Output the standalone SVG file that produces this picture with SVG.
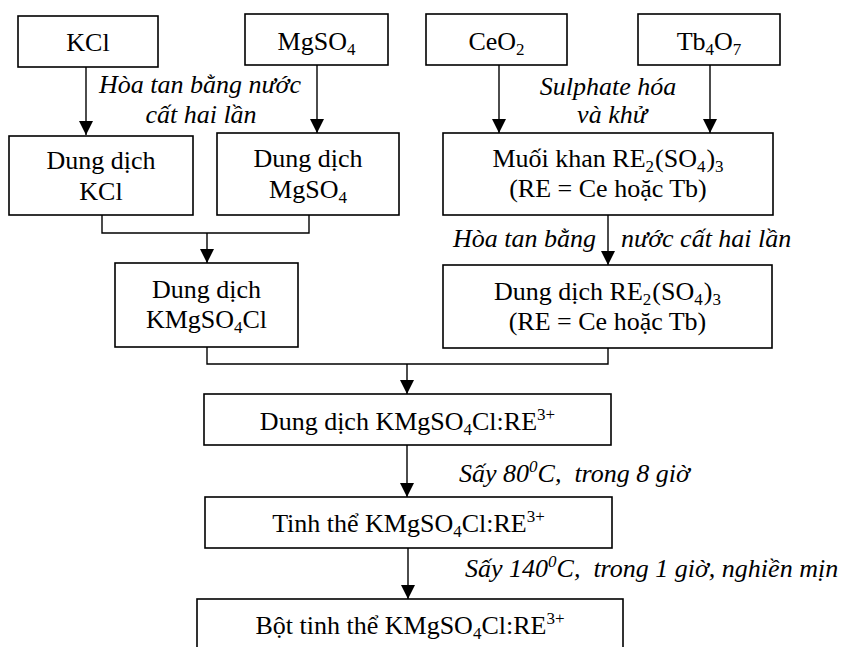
<svg xmlns="http://www.w3.org/2000/svg" width="849" height="647" viewBox="0 0 849 647">
<defs>
<style>
.box{fill:#fff;stroke:#000;stroke-width:1.6}
.t{font-family:"Liberation Serif","Times New Roman",serif;font-size:26px;fill:#000;text-anchor:middle}
.lbl{font-family:"Liberation Serif","Times New Roman",serif;font-size:26px;font-style:italic;fill:#000}
.c{text-anchor:middle}
.s{font-size:17px}
.ln{fill:none;stroke:#000;stroke-width:1.4}
</style>
<marker id="ah" markerUnits="userSpaceOnUse" markerWidth="14" markerHeight="14" viewBox="0 0 14 14" refX="14" refY="7" orient="auto">
<path d="M0,0 L14,7 L0,14 Z" fill="#000"/>
</marker>
</defs>
<rect width="849" height="647" fill="#fff"/>
<g id="connectors">
<path class="ln" d="M86,67 V135" marker-end="url(#ah)"/>
<path class="ln" d="M317,65 V133" marker-end="url(#ah)"/>
<path class="ln" d="M499,65 V133" marker-end="url(#ah)"/>
<path class="ln" d="M710,65 V133" marker-end="url(#ah)"/>
<path class="ln" d="M102,215 V233 H309 V215"/>
<path class="ln" d="M207,233 V263" marker-end="url(#ah)"/>
<path class="ln" d="M608,215 V265" marker-end="url(#ah)"/>
<path class="ln" d="M207,347 V364 H608 V348"/>
<path class="ln" d="M407,364 V394" marker-end="url(#ah)"/>
<path class="ln" d="M407,445 V497" marker-end="url(#ah)"/>
<path class="ln" d="M408,548 V599" marker-end="url(#ah)"/>
</g>
<g id="labels">
<text class="lbl c" x="200" y="93">Hòa tan bằng nước</text>
<text class="lbl c" x="201" y="123">cất hai lần</text>
<text class="lbl c" x="608" y="95">Sulphate hóa</text>
<text class="lbl c" x="612" y="123">và khử</text>
<text class="lbl" y="247"><tspan x="453">Hòa tan bằng</tspan><tspan x="621">nước cất hai lần</tspan></text>
<text class="lbl" x="459" y="482" xml:space="preserve">Sấy 80<tspan class="s" dy="-10">0</tspan><tspan dy="10">C,  trong 8 giờ</tspan></text>
<text class="lbl" x="465" y="577" xml:space="preserve">Sấy 140<tspan class="s" dy="-10">0</tspan><tspan dy="10">C,  trong 1 giờ, nghiền mịn</tspan></text>
</g>
<g id="kcl">
<rect class="box" x="18" y="16" width="140" height="51"/>
<text class="t" x="88" y="51">KCl</text>
</g>
<g id="mgso4">
<rect class="box" x="245" y="14" width="143" height="51"/>
<text class="t" x="316.5" y="50">MgSO<tspan class="s" dy="5">4</tspan></text>
</g>
<g id="ceo2">
<rect class="box" x="426" y="14" width="141" height="51"/>
<text class="t" x="496.5" y="50">CeO<tspan class="s" dy="5">2</tspan></text>
</g>
<g id="tb4o7">
<rect class="box" x="638" y="14" width="142" height="51"/>
<text class="t" x="709" y="50">Tb<tspan class="s" dy="5">4</tspan><tspan dy="-5">O</tspan><tspan class="s" dy="5">7</tspan></text>
</g>
<g id="dd-kcl">
<rect class="box" x="9" y="136" width="184" height="79"/>
<text class="t" x="101" y="169">Dung dịch</text>
<text class="t" x="101" y="200">KCl</text>
</g>
<g id="dd-mgso4">
<rect class="box" x="217" y="133" width="182" height="82"/>
<text class="t" x="308" y="167">Dung dịch</text>
<text class="t" x="308" y="198">MgSO<tspan class="s" dy="5">4</tspan></text>
</g>
<g id="muoi-khan">
<rect class="box" x="443" y="133" width="330" height="82"/>
<text class="t" x="608" y="167">Muối khan RE<tspan class="s" dy="5">2</tspan><tspan dx="1" dy="-5">(SO</tspan><tspan class="s" dy="5">4</tspan><tspan dx="1" dy="-5">)</tspan><tspan class="s" dy="5">3</tspan></text>
<text class="t" x="608" y="197">(RE = Ce hoặc Tb)</text>
</g>
<g id="dd-kmgso4cl">
<rect class="box" x="115" y="263" width="183" height="84"/>
<text class="t" x="206.5" y="298">Dung dịch</text>
<text class="t" x="206.5" y="328">KMgSO<tspan class="s" dy="5">4</tspan><tspan dy="-5">Cl</tspan></text>
</g>
<g id="dd-re">
<rect class="box" x="443" y="265" width="329" height="83"/>
<text class="t" x="607.5" y="300">Dung dịch RE<tspan class="s" dy="5">2</tspan><tspan dx="1" dy="-5">(SO</tspan><tspan class="s" dy="5">4</tspan><tspan dx="1" dy="-5">)</tspan><tspan class="s" dy="5">3</tspan></text>
<text class="t" x="607.5" y="330">(RE = Ce hoặc Tb)</text>
</g>
<g id="dd-doped">
<rect class="box" x="204" y="394" width="407" height="51"/>
<text class="t" x="407.5" y="430">Dung dịch KMgSO<tspan class="s" dy="5">4</tspan><tspan dy="-5">Cl:RE</tspan><tspan class="s" dy="-10">3+</tspan></text>
</g>
<g id="tinh-the">
<rect class="box" x="205" y="497" width="407" height="51"/>
<text class="t" x="408.5" y="532">Tinh thể KMgSO<tspan class="s" dy="5">4</tspan><tspan dy="-5">Cl:RE</tspan><tspan class="s" dy="-10">3+</tspan></text>
</g>
<g id="bot">
<rect class="box" x="197" y="599" width="426" height="60"/>
<text class="t" x="410" y="634">Bột tinh thể KMgSO<tspan class="s" dy="5">4</tspan><tspan dy="-5">Cl:RE</tspan><tspan class="s" dy="-10">3+</tspan></text>
</g>
</svg>
